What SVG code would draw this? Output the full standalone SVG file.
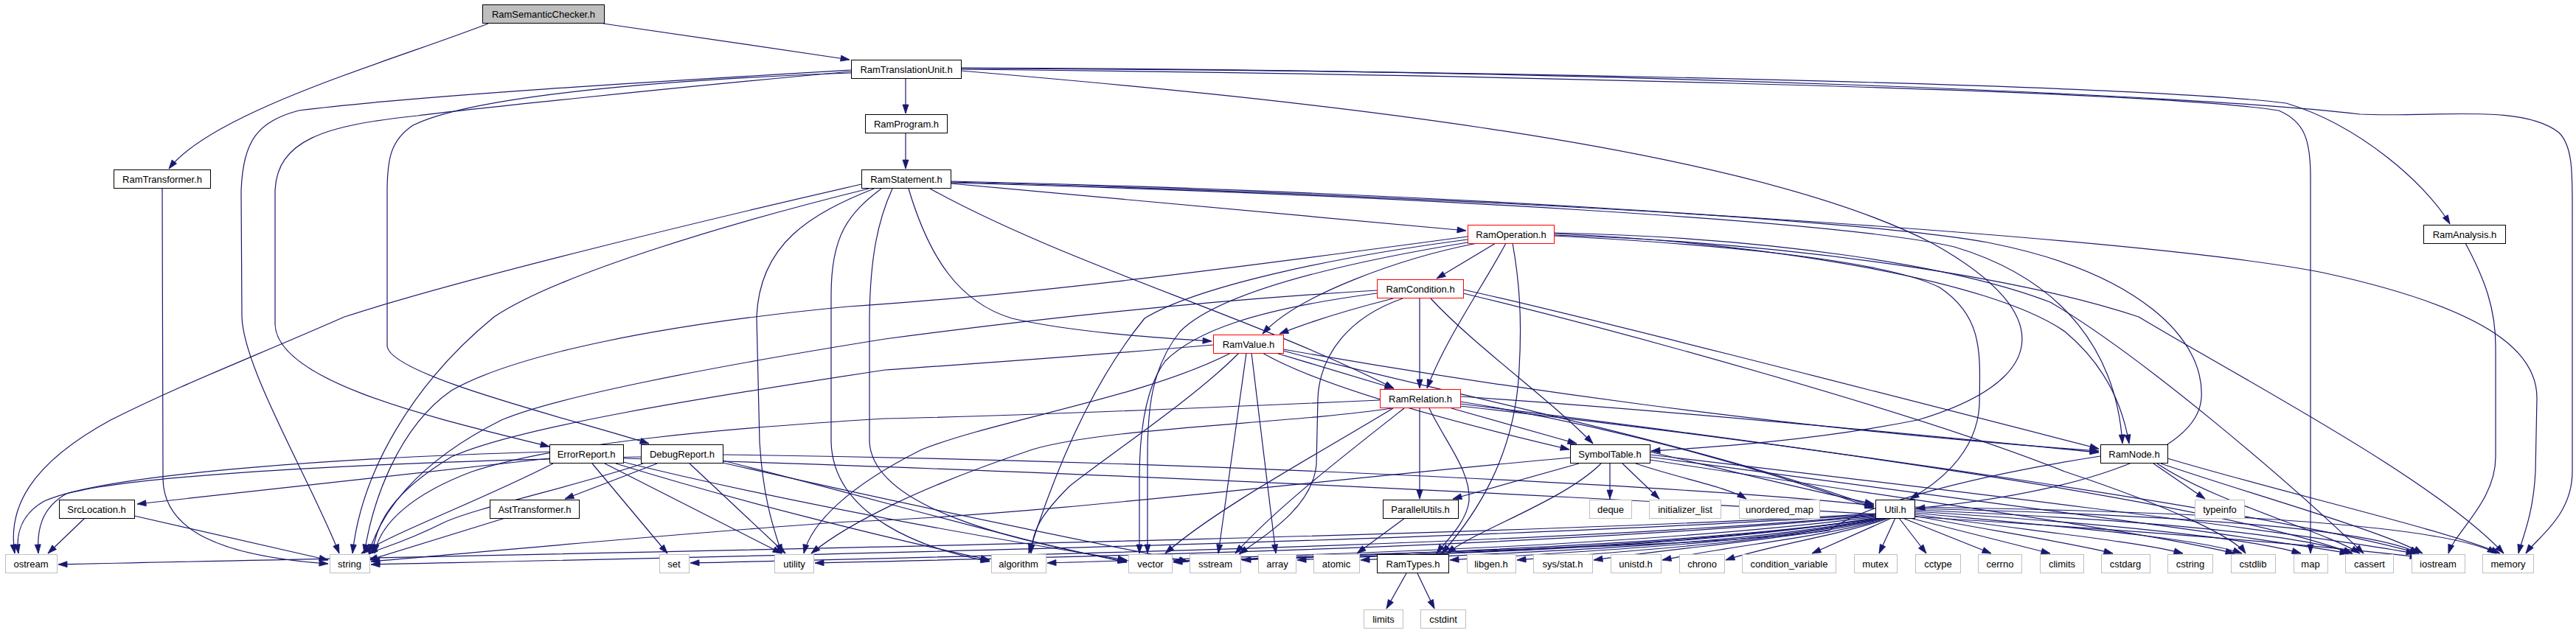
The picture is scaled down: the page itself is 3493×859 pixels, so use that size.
<svg xmlns="http://www.w3.org/2000/svg" width="3493" height="859" viewBox="0 0 3493 859">
<style>
.e{fill:none;stroke:#191970;stroke-width:1.2;marker-end:url(#a)}
.n rect{fill:#fff;stroke:#000;stroke-width:1}
.g rect{fill:#fff;stroke:#bfbfbf;stroke-width:1}
.r rect{fill:#fff;stroke:#ff0000;stroke-width:1}
.s rect{fill:#bfbfbf;stroke:#000;stroke-width:1}
text{font-family:"Liberation Sans",Arial,Helvetica,sans-serif;font-size:13px;text-anchor:middle;fill:#000}
</style>
<defs>
<marker id="a" markerUnits="userSpaceOnUse" markerWidth="13" markerHeight="9" refX="12" refY="4" orient="auto" overflow="visible">
<path d="M0,0 L12,4 L0,8 z" fill="#191970" stroke="#191970" stroke-width="0.8"/>
</marker>
</defs>
<rect width="3493" height="859" fill="#fff"/>
<g id="edges">
<path class="e" d="M662,32 C540,80 290,150 229,229"/>
<path class="e" d="M818,32 C900,45 1050,65 1152,81"/>
<path class="e" d="M220,256 L221,650 C222,720 300,755 445,765"/>
<path class="e" d="M1228,106 L1228,154"/>
<path class="e" d="M1228,181 L1228,229"/>
<path class="e" d="M1154,95 C900,110 560,130 405,150 C350,165 329,190 327,260 L328,430 C330,500 420,650 460,751"/>
<path class="e" d="M1154,97 C900,120 620,150 566,157 C440,170 375,190 373,260 L373,440 C375,520 600,570 745,606"/>
<path class="e" d="M1154,99 C900,108 640,130 560,170 C530,190 525,215 525,260 L525,470 C530,510 780,570 880,602"/>
<path class="e" d="M1303,96 C1700,130 2350,190 2620,330 C2800,430 2770,520 2600,570 C2450,600 2300,608 2239,612"/>
<path class="e" d="M1303,94 C1900,100 2900,120 3090,150 C3125,165 3133,190 3133,240 L3133,751"/>
<path class="e" d="M1303,93 C2000,95 2900,115 3100,140 C3200,170 3290,250 3322,304"/>
<path class="e" d="M1303,92 C2200,95 3000,130 3200,155 C3300,160 3420,140 3470,180 C3490,200 3488,240 3488,300 L3488,640 C3488,700 3440,730 3425,751"/>
<path class="e" d="M1168,250 C950,300 620,380 467,430 C330,490 250,520 150,570 C40,630 10,690 20,751"/>
<path class="e" d="M1178,256 C1000,300 760,370 670,430 C560,520 490,640 478,751"/>
<path class="e" d="M1185,256 C1100,290 1030,330 1026,430 L1030,600 C1035,680 1050,720 1060,751"/>
<path class="e" d="M1195,256 C1150,290 1127,320 1127,400 L1127,600 C1130,700 1250,745 1342,762"/>
<path class="e" d="M1210,256 C1190,300 1180,350 1179,430 L1179,600 C1185,700 1420,740 1528,763"/>
<path class="e" d="M1232,256 C1260,350 1300,410 1372,432 C1450,450 1560,458 1643,463"/>
<path class="e" d="M1261,256 C1450,360 1700,430 1890,527"/>
<path class="e" d="M1289,249 L1988,313"/>
<path class="e" d="M1289,248 C1900,265 2500,300 2650,335 C2800,380 2870,480 2878,602"/>
<path class="e" d="M1289,246 C1900,260 2550,300 2700,330 C2900,370 2990,460 2985,540 C2980,620 2800,670 2598,690"/>
<path class="e" d="M1289,247 C2000,265 2900,320 3150,370 C3380,420 3440,480 3440,540 L3438,640 C3435,700 3420,730 3415,751"/>
<path class="e" d="M3343,330 C3370,380 3384,420 3384,470 L3384,620 C3384,680 3330,720 3320,751"/>
<path class="e" d="M2028,330 L1948,378"/>
<path class="e" d="M2042,330 C2010,390 1960,460 1935,527"/>
<path class="e" d="M2051,330 C2060,380 2064,430 2060,500 C2055,620 2000,700 1955,751"/>
<path class="e" d="M2003,330 C1900,350 1760,400 1712,453"/>
<path class="e" d="M1990,321 C1700,360 1400,400 1150,416 C900,440 700,480 612,530 C540,580 505,680 494,751"/>
<path class="e" d="M1996,328 C1800,360 1650,400 1600,450 C1560,500 1556,560 1556,620 L1556,751"/>
<path class="e" d="M1990,325 C1800,350 1620,390 1552,432 C1480,520 1430,640 1395,751"/>
<path class="e" d="M2107,317 C2400,330 2700,380 2800,450 C2860,500 2880,560 2887,602"/>
<path class="e" d="M2107,320 C2300,330 2550,350 2630,390 C2690,430 2685,480 2684,550 C2680,620 2620,660 2590,677"/>
<path class="e" d="M2107,316 C2400,322 2650,360 2780,410 C2900,480 3100,650 3205,751"/>
<path class="e" d="M2107,319 C2450,330 2750,380 2900,430 C3050,520 3300,650 3395,751"/>
<path class="e" d="M1889,405 C1830,420 1780,435 1735,453"/>
<path class="e" d="M1925,405 L1925,527"/>
<path class="e" d="M1867,394 C1600,410 1350,440 1200,460 C950,500 750,540 680,570 C560,630 515,700 500,751"/>
<path class="e" d="M1902,405 C1830,430 1790,480 1787,540 L1785,630 C1780,690 1710,730 1680,752"/>
<path class="e" d="M1940,405 C2000,470 2100,540 2160,602"/>
<path class="e" d="M1984,393 C2150,430 2500,520 2846,609"/>
<path class="e" d="M1984,398 C2200,450 2600,560 2800,640 C2950,690 3030,730 3045,751"/>
<path class="e" d="M1867,398 C1700,420 1620,450 1580,490 C1550,530 1545,600 1545,650 L1545,751"/>
<path class="e" d="M1730,479 L1890,527"/>
<path class="e" d="M1712,479 C1800,530 2000,580 2128,610"/>
<path class="e" d="M1740,474 C2000,520 2400,580 2846,612"/>
<path class="e" d="M1645,468 C1450,485 1300,495 1200,502 C950,540 700,580 612,620 C530,670 510,710 505,751"/>
<path class="e" d="M1669,479 C1550,540 1350,570 1250,610 C1150,660 1100,710 1090,751"/>
<path class="e" d="M1680,479 C1620,540 1500,620 1450,660 C1410,700 1400,720 1398,751"/>
<path class="e" d="M1690,479 L1652,751"/>
<path class="e" d="M1697,479 L1730,751"/>
<path class="e" d="M1740,476 C1900,520 2300,600 2541,688"/>
<path class="e" d="M1925,554 L1925,677"/>
<path class="e" d="M1938,554 C1960,600 1995,640 1992,680 C1988,710 1960,735 1948,751"/>
<path class="e" d="M1968,554 L2138,602"/>
<path class="e" d="M1889,554 C1780,620 1650,690 1580,751"/>
<path class="e" d="M1904,554 C1820,620 1730,690 1675,751"/>
<path class="e" d="M1871,543 C1600,555 1350,565 1200,568 C1000,580 760,600 640,640 C560,670 515,710 508,751"/>
<path class="e" d="M1887,554 C1750,575 1500,580 1400,610 C1250,660 1150,710 1100,751"/>
<path class="e" d="M1980,538 C2300,560 2600,590 2846,614"/>
<path class="e" d="M1980,545 C2200,580 2400,640 2541,690"/>
<path class="e" d="M1980,548 C2400,600 3000,680 3190,751"/>
<path class="e" d="M1980,551 C2500,610 3100,700 3280,751"/>
<path class="e" d="M2141,629 L1970,677"/>
<path class="e" d="M2171,629 C2120,680 2000,720 1962,751"/>
<path class="e" d="M2183,629 L2183,677"/>
<path class="e" d="M2200,629 L2250,677"/>
<path class="e" d="M2218,629 C2280,650 2340,660 2368,677"/>
<path class="e" d="M2129,621 C1800,650 1400,700 1150,708 C900,725 650,750 503,762"/>
<path class="e" d="M2237,613 C2350,640 2450,665 2541,684"/>
<path class="e" d="M2237,617 C2600,660 3100,720 3275,751"/>
<path class="e" d="M2237,620 C2600,670 3000,720 3185,751"/>
<path class="e" d="M2237,624 C2600,680 2900,720 3030,751"/>
<path class="e" d="M2920,629 L2990,677"/>
<path class="e" d="M2925,629 C3000,680 3150,720 3200,751"/>
<path class="e" d="M2930,629 C3050,670 3230,720 3285,751"/>
<path class="e" d="M2939,622 C3100,670 3320,720 3390,751"/>
<path class="e" d="M2848,619 C2650,650 2520,690 2480,720 C2300,745 1800,750 1591,763"/>
<path class="e" d="M2543,697 C2000,730 800,750 79,766"/>
<path class="e" d="M2543,698 C2000,735 1000,755 503,766"/>
<path class="e" d="M2543,699 C2100,740 1300,755 936,764"/>
<path class="e" d="M2543,700 C2100,742 1500,755 1105,764"/>
<path class="e" d="M2545,701 C2200,745 1700,755 1420,764"/>
<path class="e" d="M2546,702 C2300,745 1900,755 1591,761"/>
<path class="e" d="M2548,703 C2300,740 1900,750 1684,760"/>
<path class="e" d="M2550,703 C2300,740 2000,748 1759,760"/>
<path class="e" d="M2552,703 C2350,740 2100,748 1845,760"/>
<path class="e" d="M2554,703 C2400,735 2200,745 1966,760"/>
<path class="e" d="M2556,703 C2400,735 2250,745 2057,760"/>
<path class="e" d="M2558,703 C2450,730 2300,740 2161,760"/>
<path class="e" d="M2560,703 C2480,728 2350,740 2254,760"/>
<path class="e" d="M2562,703 C2500,725 2400,740 2340,760"/>
<path class="e" d="M2565,703 L2457,751"/>
<path class="e" d="M2570,703 L2548,751"/>
<path class="e" d="M2575,703 L2612,751"/>
<path class="e" d="M2580,703 L2700,751"/>
<path class="e" d="M2590,703 L2780,751"/>
<path class="e" d="M2596,700 C2700,720 2800,735 2865,751"/>
<path class="e" d="M2596,698 C2750,720 2900,735 2960,751"/>
<path class="e" d="M2596,696 C2800,715 2980,730 3040,751"/>
<path class="e" d="M2596,694 C2850,710 3050,730 3120,751"/>
<path class="e" d="M2596,692 C2900,705 3120,725 3190,751"/>
<path class="e" d="M2596,690 C3000,700 3220,720 3280,751"/>
<path class="e" d="M2596,688 C3050,695 3320,715 3385,751"/>
<path class="e" d="M745,622 L186,684"/>
<path class="e" d="M745,613 C500,620 150,640 60,680 C25,700 22,730 25,751"/>
<path class="e" d="M750,629 C650,680 540,720 490,751"/>
<path class="e" d="M803,629 L905,751"/>
<path class="e" d="M820,629 L1060,751"/>
<path class="e" d="M835,629 C1000,680 1200,730 1342,760"/>
<path class="e" d="M845,627 C1100,690 1400,740 1528,760"/>
<path class="e" d="M845,622 C1500,640 2800,700 3280,756"/>
<path class="e" d="M891,629 L766,677"/>
<path class="e" d="M869,620 C600,625 200,640 90,670 C55,690 50,720 52,751"/>
<path class="e" d="M872,629 C780,660 640,690 600,710 C540,740 510,745 500,752"/>
<path class="e" d="M935,629 L1065,751"/>
<path class="e" d="M980,625 C1200,680 1400,740 1528,762"/>
<path class="e" d="M980,628 C1250,690 1500,740 1611,762"/>
<path class="e" d="M980,617 C1600,625 2300,660 2541,686"/>
<path class="e" d="M685,703 L500,760"/>
<path class="e" d="M115,703 L65,751"/>
<path class="e" d="M182,700 L445,760"/>
<path class="e" d="M1905,703 L1840,751"/>
<path class="e" d="M1907,778 L1880,826"/>
<path class="e" d="M1922,778 L1945,826"/>
</g>
<g id="n-RamSemanticChecker" class="s"><rect x="654.5" y="6.5" width="165" height="25"/><text x="737" y="24">RamSemanticChecker.h</text></g>
<g id="n-RamTranslationUnit" class="n"><rect x="1154.5" y="81.5" width="149" height="25"/><text x="1229" y="99">RamTranslationUnit.h</text></g>
<g id="n-RamTransformer" class="n"><rect x="154.5" y="230.5" width="131" height="25"/><text x="220" y="248">RamTransformer.h</text></g>
<g id="n-RamProgram" class="n"><rect x="1173.5" y="155.5" width="111" height="25"/><text x="1229" y="173">RamProgram.h</text></g>
<g id="n-RamStatement" class="n"><rect x="1168.5" y="230.5" width="121" height="25"/><text x="1229" y="248">RamStatement.h</text></g>
<g id="n-RamAnalysis" class="n"><rect x="3286.5" y="305.5" width="111" height="25"/><text x="3342" y="323">RamAnalysis.h</text></g>
<g id="n-RamOperation" class="r"><rect x="1990.5" y="305.5" width="117" height="25"/><text x="2049" y="323">RamOperation.h</text></g>
<g id="n-RamCondition" class="r"><rect x="1867.5" y="379.5" width="117" height="25"/><text x="1926" y="397">RamCondition.h</text></g>
<g id="n-RamValue" class="r"><rect x="1645.5" y="454.5" width="95" height="25"/><text x="1693" y="472">RamValue.h</text></g>
<g id="n-RamRelation" class="r"><rect x="1871.5" y="528.5" width="109" height="25"/><text x="1926" y="546">RamRelation.h</text></g>
<g id="n-ErrorReport" class="n"><rect x="745.5" y="603.5" width="100" height="25"/><text x="795" y="621">ErrorReport.h</text></g>
<g id="n-DebugReport" class="n"><rect x="869.5" y="603.5" width="111" height="25"/><text x="925" y="621">DebugReport.h</text></g>
<g id="n-SymbolTable" class="n"><rect x="2129.5" y="603.5" width="108" height="25"/><text x="2183" y="621">SymbolTable.h</text></g>
<g id="n-RamNode" class="n"><rect x="2848.5" y="603.5" width="91" height="25"/><text x="2894" y="621">RamNode.h</text></g>
<g id="n-SrcLocation" class="n"><rect x="80.5" y="678.5" width="102" height="25"/><text x="131" y="696">SrcLocation.h</text></g>
<g id="n-AstTransformer" class="n"><rect x="664.5" y="678.5" width="121" height="25"/><text x="725" y="696">AstTransformer.h</text></g>
<g id="n-ParallelUtils" class="n"><rect x="1875.5" y="678.5" width="102" height="25"/><text x="1926" y="696">ParallelUtils.h</text></g>
<g id="n-deque" class="g"><rect x="2155.5" y="678.5" width="57" height="25"/><text x="2184" y="696">deque</text></g>
<g id="n-initializer_list" class="g"><rect x="2236.5" y="678.5" width="97" height="25"/><text x="2285" y="696">initializer_list</text></g>
<g id="n-unordered_map" class="g"><rect x="2358.5" y="678.5" width="109" height="25"/><text x="2413" y="696">unordered_map</text></g>
<g id="n-Util" class="n"><rect x="2543.5" y="678.5" width="53" height="25"/><text x="2570" y="696">Util.h</text></g>
<g id="n-typeinfo" class="g"><rect x="2976.5" y="678.5" width="67" height="25"/><text x="3010" y="696">typeinfo</text></g>
<g id="n-ostream" class="g"><rect x="7.5" y="752.5" width="70" height="25"/><text x="42" y="770">ostream</text></g>
<g id="n-string" class="g"><rect x="447.5" y="752.5" width="54" height="25"/><text x="474" y="770">string</text></g>
<g id="n-set" class="g"><rect x="894.5" y="752.5" width="40" height="25"/><text x="914" y="770">set</text></g>
<g id="n-utility" class="g"><rect x="1050.5" y="752.5" width="53" height="25"/><text x="1077" y="770">utility</text></g>
<g id="n-algorithm" class="g"><rect x="1344.5" y="752.5" width="74" height="25"/><text x="1381" y="770">algorithm</text></g>
<g id="n-vector" class="g"><rect x="1530.5" y="752.5" width="59" height="25"/><text x="1560" y="770">vector</text></g>
<g id="n-sstream" class="g"><rect x="1613.5" y="752.5" width="69" height="25"/><text x="1648" y="770">sstream</text></g>
<g id="n-array" class="g"><rect x="1706.5" y="752.5" width="51" height="25"/><text x="1732" y="770">array</text></g>
<g id="n-atomic" class="g"><rect x="1781.5" y="752.5" width="62" height="25"/><text x="1812" y="770">atomic</text></g>
<g id="n-RamTypes" class="n"><rect x="1867.5" y="752.5" width="97" height="25"/><text x="1916" y="770">RamTypes.h</text></g>
<g id="n-libgen" class="g"><rect x="1989.5" y="752.5" width="66" height="25"/><text x="2022" y="770">libgen.h</text></g>
<g id="n-sysstat" class="g"><rect x="2079.5" y="752.5" width="80" height="25"/><text x="2119" y="770">sys/stat.h</text></g>
<g id="n-unistd" class="g"><rect x="2184.5" y="752.5" width="68" height="25"/><text x="2218" y="770">unistd.h</text></g>
<g id="n-chrono" class="g"><rect x="2277.5" y="752.5" width="61" height="25"/><text x="2308" y="770">chrono</text></g>
<g id="n-condition_variable" class="g"><rect x="2362.5" y="752.5" width="127" height="25"/><text x="2426" y="770">condition_variable</text></g>
<g id="n-mutex" class="g"><rect x="2514.5" y="752.5" width="58" height="25"/><text x="2543" y="770">mutex</text></g>
<g id="n-cctype" class="g"><rect x="2597.5" y="752.5" width="61" height="25"/><text x="2628" y="770">cctype</text></g>
<g id="n-cerrno" class="g"><rect x="2682.5" y="752.5" width="59" height="25"/><text x="2712" y="770">cerrno</text></g>
<g id="n-climits" class="g"><rect x="2766.5" y="752.5" width="59" height="25"/><text x="2796" y="770">climits</text></g>
<g id="n-cstdarg" class="g"><rect x="2849.5" y="752.5" width="66" height="25"/><text x="2882" y="770">cstdarg</text></g>
<g id="n-cstring" class="g"><rect x="2939.5" y="752.5" width="61" height="25"/><text x="2970" y="770">cstring</text></g>
<g id="n-cstdlib" class="g"><rect x="3025.5" y="752.5" width="60" height="25"/><text x="3055" y="770">cstdlib</text></g>
<g id="n-map" class="g"><rect x="3110.5" y="752.5" width="46" height="25"/><text x="3133" y="770">map</text></g>
<g id="n-cassert" class="g"><rect x="3180.5" y="752.5" width="65" height="25"/><text x="3213" y="770">cassert</text></g>
<g id="n-iostream" class="g"><rect x="3270.5" y="752.5" width="72" height="25"/><text x="3306" y="770">iostream</text></g>
<g id="n-memory" class="g"><rect x="3366.5" y="752.5" width="69" height="25"/><text x="3401" y="770">memory</text></g>
<g id="n-limits" class="g"><rect x="1849.5" y="827.5" width="53" height="25"/><text x="1876" y="845">limits</text></g>
<g id="n-cstdint" class="g"><rect x="1926.5" y="827.5" width="61" height="25"/><text x="1957" y="845">cstdint</text></g>
</svg>
